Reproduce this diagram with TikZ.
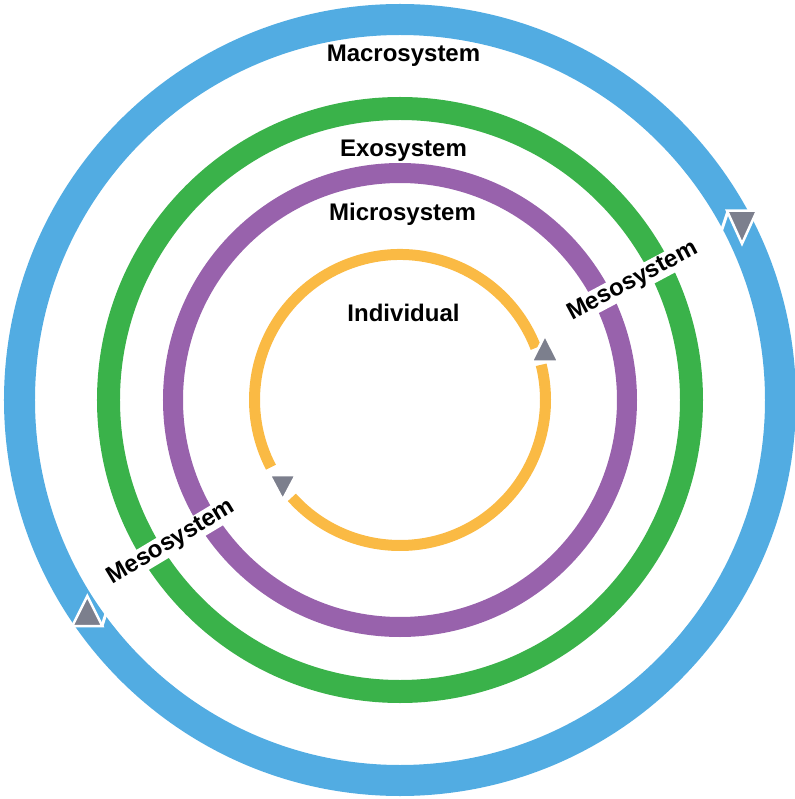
\documentclass[tikz,border=0pt]{standalone}
\usepackage{fontspec}
\setmainfont{Liberation Sans}
\definecolor{macroblue}{RGB}{82,172,226}
\definecolor{exogreen}{RGB}{58,178,74}
\definecolor{micropurple}{RGB}{152,98,172}
\definecolor{indorange}{RGB}{250,186,68}
\definecolor{tipgray}{RGB}{124,127,141}
\tikzset{
  lbl/.style={font=\bfseries\fontsize{24bp}{28bp}\selectfont,inner sep=1bp},
  tipfill/.style={fill=tipgray,draw=white,line width=2.5bp,line join=miter},
}
\begin{document}
\begin{tikzpicture}[>=latex,line join=bevel,]
\useasboundingbox (-400bp,-399bp) rectangle (395bp,400bp);
%%
\draw [macroblue,line width=31bp] (0bp,0bp) circle (380.5bp);
  \draw [exogreen,line width=23bp] (0bp,0bp) circle (291.5bp);
  \draw [micropurple,line width=20bp] (0bp,0bp) circle (227.0bp);
  \draw [indorange,line width=11bp] (21.0:145.5bp) arc [start angle=21.0,end angle=207.5,radius=145.5bp];
  \draw [indorange,line width=11bp] (222.0:145.5bp) arc [start angle=222.0,end angle=374.0,radius=145.5bp];
%
\node (node_macro) at (3.5bp,338.0bp) [lbl,anchor=base] {Macrosystem};
  \node (node_exo) at (3.5bp,243.0bp) [lbl,anchor=base] {Exosystem};
  \node (node_micro) at (2.5bp,179.0bp) [lbl,anchor=base] {Microsystem};
  \node (node_ind) at (3.5bp,78.0bp) [lbl,anchor=base] {Individual};
  \node (node_meso_0) at (233.0bp,118.5bp) [lbl,fill=white,rotate=28] {Mesosystem};
  \node (node_meso_1) at (-228.5bp,-142.5bp) [lbl,fill=white,rotate=31] {Mesosystem};
%
\draw [white,line width=3bp] (321.0bp,168.0bp) -- (328.0bp,189.0bp);
  \draw [white,line width=3bp] (-291.0bp,-204.0bp) -- (-298.0bp,-226.0bp);
  \draw [tipfill,shift={(342.0bp,177.3bp)}] (-15.0bp,12.0bp) -- (15.0bp,12.0bp) -- (0bp,-21.0bp) -- cycle;
  \draw [tipfill,shift={(-312.7bp,-216.0bp)}] (-15.0bp,-10.0bp) -- (15.0bp,-10.0bp) -- (0bp,20.0bp) -- cycle;
  \draw [tipfill,shift={(145.0bp,47.3bp)}] (-13.5bp,-9.0bp) -- (13.5bp,-9.0bp) -- (0bp,17.5bp) -- cycle;
  \draw [tipfill,shift={(-117.3bp,-83.7bp)}] (-13.0bp,8.5bp) -- (13.0bp,8.5bp) -- (0bp,-16.0bp) -- cycle;
%
\end{tikzpicture}
\end{document}
